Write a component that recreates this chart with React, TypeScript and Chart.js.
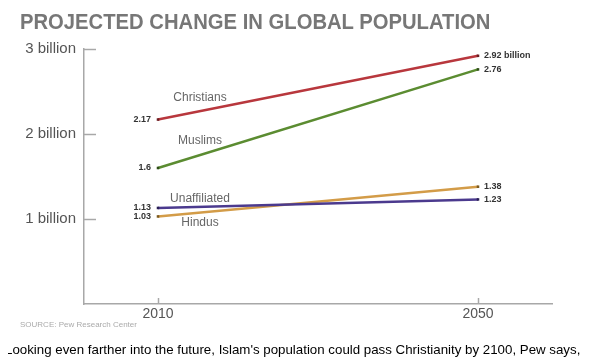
import React, { useEffect, useRef } from "react";
import { Chart, registerables } from "chart.js";

Chart.register(...registerables);

// ---- data ----
const years = [2010, 2050];
const seriesNames = ["Christians", "Muslims", "Unaffiliated", "Hindus"];
const christians = [2.17, 2.92];
const muslims = [1.6, 2.76];
const unaffiliated = [1.13, 1.23];
const hindus = [1.03, 1.38];
const leftLabels = ["2.17", "1.6", "1.13", "1.03"];
const rightLabels = ["2.92 billion", "2.76", "1.23", "1.38"];
const yTickValues = [1, 2, 3];
const yTickSuffix = " billion";

const seriesValues = [christians, muslims, unaffiliated, hindus];
const seriesColors = ["#b8373d", "#5b8c31", "#4b3a8e", "#d39c48"];
const pointColors = ["#6a1c20", "#2f4d17", "#2a1f55", "#7a5a20"];
// name label placement: year along line and pixel offset from line
const nameAnchorYear = 2015.25;
const nameOffsets = [-13, -14, -8, 10];

const FONT = "'Liberation Sans', Arial, Helvetica, sans-serif";

const annotate = {
  id: "annotate",
  afterDatasetsDraw(chart: any) {
    const { ctx, chartArea, scales } = chart;
    const xs = scales.x;
    const ys = scales.y;
    ctx.save();
    // inward tick marks
    ctx.strokeStyle = "#a8a8a8";
    ctx.lineWidth = 1.5;
    yTickValues.forEach((v) => {
      const y = Math.round(ys.getPixelForValue(v)) + 0.5;
      ctx.beginPath();
      ctx.moveTo(chartArea.left, y);
      ctx.lineTo(chartArea.left + 12, y);
      ctx.stroke();
    });
    years.forEach((v) => {
      const x = Math.round(xs.getPixelForValue(v)) + 0.5;
      ctx.beginPath();
      ctx.moveTo(x, chartArea.bottom);
      ctx.lineTo(x, chartArea.bottom - 6);
      ctx.stroke();
    });
    // value labels
    chart.data.datasets.forEach((ds: any, i: number) => {
      const meta = chart.getDatasetMeta(i);
      const p0 = meta.data[0];
      const p1 = meta.data[1];
      ctx.fillStyle = "#333";
      ctx.font = `bold 9px ${FONT}`;
      ctx.textBaseline = "middle";
      ctx.textAlign = "right";
      ctx.fillText(leftLabels[i], p0.x - 7, p0.y);
      ctx.textAlign = "left";
      ctx.fillText(rightLabels[i], p1.x + 6, p1.y);
      // series name
      const vals = seriesValues[i];
      const t = (nameAnchorYear - years[0]) / (years[1] - years[0]);
      const v = vals[0] + (vals[1] - vals[0]) * t;
      ctx.font = `12px ${FONT}`;
      ctx.fillStyle = "#666";
      ctx.textAlign = "center";
      ctx.fillText(
        seriesNames[i],
        xs.getPixelForValue(nameAnchorYear),
        ys.getPixelForValue(v) + nameOffsets[i]
      );
    });
    ctx.restore();
  },
};

export default function App() {
  const ref = useRef<HTMLCanvasElement | null>(null);
  useEffect(() => {
    if (!ref.current) return;
    const chart = new Chart(ref.current, {
      type: "line",
      data: {
        datasets: seriesNames.map((name, i) => ({
          label: name,
          data: years.map((x, j) => ({ x, y: seriesValues[i][j] })),
          borderColor: seriesColors[i],
          backgroundColor: seriesColors[i],
          borderWidth: 2.5,
          pointStyle: "rect",
          pointRadius: 1.8,
          pointBorderWidth: 0,
          pointBackgroundColor: pointColors[i],
          tension: 0,
        })),
      },
      options: {
        responsive: false,
        animation: false,
        layout: { padding: { left: 0, top: 49, right: 56, bottom: 0 } },
        plugins: { legend: { display: false }, tooltip: { enabled: false } },
        scales: {
          x: {
            type: "linear",
            min: 2000.75,
            max: 2059.25,
            afterBuildTicks: (s: any) => {
              s.ticks = years.map((v) => ({ value: v }));
            },
            afterFit: (s: any) => {
              s.height = 57;
            },
            ticks: {
              color: "#555",
              font: { size: 14, family: FONT },
              padding: 2,
              callback: (v: any) => String(v),
              maxRotation: 0,
            },
            grid: { display: true, drawOnChartArea: false, drawTicks: false, color: "rgba(0,0,0,0)" },
            border: { display: true, color: "#a8a8a8", width: 1.5 },
          },
          y: {
            min: 0,
            max: 3,
            afterBuildTicks: (s: any) => {
              s.ticks = yTickValues.map((v) => ({ value: v }));
            },
            afterFit: (s: any) => {
              s.width = 84;
            },
            ticks: {
              color: "#555",
              font: { size: 15, family: FONT },
              padding: 8,
              callback: (v: any) => v + yTickSuffix,
            },
            grid: { display: true, drawOnChartArea: false, drawTicks: false, color: "rgba(0,0,0,0)" },
            border: { display: true, color: "#a8a8a8", width: 1.5 },
          },
        },
      },
      plugins: [annotate],
    } as any);
    return () => chart.destroy();
  }, []);

  return (
    <div
      style={{
        position: "relative",
        margin: "-8px 0 0 -8px",
        width: 608,
        height: 361,
        background: "#fff",
        overflow: "hidden",
        fontFamily: FONT,
      }}
    >
      <canvas
        ref={ref}
        width={608}
        height={361}
        style={{ position: "absolute", left: 0, top: 0, width: 608, height: 361 }}
      />
      <div
        style={{
          position: "absolute",
          left: 20,
          top: 11,
          fontSize: 22,
          lineHeight: 1,
          fontWeight: "bold",
          color: "#777",
          whiteSpace: "nowrap",
          transform: "scaleX(0.92)",
          transformOrigin: "left top",
        }}
      >
        PROJECTED CHANGE IN GLOBAL POPULATION
      </div>
      <div
        style={{
          position: "absolute",
          left: 20,
          top: 321,
          fontSize: 8,
          lineHeight: 1,
          color: "#aaa",
          whiteSpace: "nowrap",
        }}
      >
        SOURCE: Pew Research Center
      </div>
      <div
        style={{
          position: "absolute",
          left: 5,
          top: 342,
          fontSize: 13.3,
          lineHeight: 1.2,
          color: "#000",
          whiteSpace: "nowrap",
        }}
      >
        Looking even farther into the future, Islam's population could pass Christianity by 2100, Pew says,
      </div>
    </div>
  );
}
